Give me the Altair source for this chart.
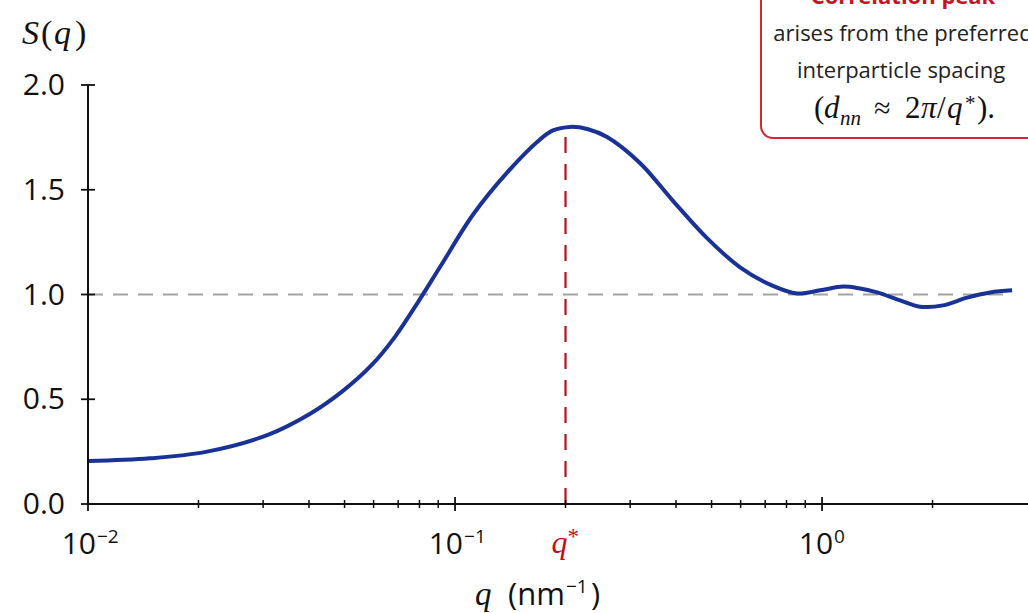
import altair as alt
import pandas as pd

# ---- data ----
q_vals = [0.01, 0.01475, 0.0211, 0.0309, 0.0403, 0.0495, 0.0594, 0.0686, 0.0793, 0.091,
          0.112, 0.1386, 0.1704, 0.1849, 0.2058, 0.2304, 0.2596, 0.319, 0.393, 0.486,
          0.598, 0.735, 0.855, 0.988, 1.141, 1.26, 1.412, 1.632, 1.849, 2.137, 2.483,
          2.87, 3.294]
s_vals = [0.205, 0.218, 0.25, 0.33, 0.431, 0.54, 0.665, 0.798, 0.964, 1.131,
          1.382, 1.582, 1.74, 1.783, 1.80, 1.789, 1.752, 1.628, 1.446, 1.269,
          1.13, 1.041, 1.005, 1.02, 1.038, 1.03, 1.01, 0.972, 0.942, 0.948, 0.985,
          1.01, 1.02]
y_tick_vals = [0.0, 0.5, 1.0, 1.5, 2.0]
x_major = [0.01, 0.1, 1.0]
x_exponents = ["\u22122", "\u22121", "0"]
x_minor = [0.02, 0.03, 0.04, 0.05, 0.06, 0.07, 0.08, 0.09,
           0.2, 0.3, 0.4, 0.5, 0.6, 0.7, 0.8, 0.9, 2.0]
q_star = 0.2
s_peak = 1.80
ref_level = 1.0
ref_end = 3.3

W, H = 940, 419
PL, PT = 88, 85

SANS = "Open Sans"
SERIF = "Liberation Serif"
INK = "#111111"
RED = "#c0101c"

xs = alt.Scale(type="log", domain=[0.01, 3.64], nice=False)
ys = alt.Scale(domain=[0, 2], nice=False)

curve_df = pd.DataFrame({"q": q_vals, "S": s_vals})
major_df = pd.DataFrame({"q": x_major, "exp": x_exponents})
minor_df = pd.DataFrame({"q": x_minor})
yt_df = pd.DataFrame({"S": y_tick_vals})
ref_df = pd.DataFrame({"q": [0.01], "q2": [ref_end], "S": [ref_level]})
star_df = pd.DataFrame({"q": [q_star], "S0": [0.0], "S1": [s_peak]})
one = pd.DataFrame({"a": [0]})


def X():
    return alt.X("q:Q", scale=xs, axis=None)


def Y(f="S"):
    return alt.Y(f + ":Q", scale=ys, axis=None)


grey = alt.Chart(ref_df).mark_rule(color="#a3a3a3", strokeWidth=2, strokeDash=[15, 10]).encode(
    x=X(), x2="q2:Q", y=Y())

reddash = alt.Chart(star_df).mark_rule(color="#b3121d", strokeWidth=2.2, strokeDash=[16, 11]).encode(
    x=X(), y=Y("S0"), y2="S1:Q")

curve = alt.Chart(curve_df).mark_line(color="#1a3296", strokeWidth=4, interpolate="catmull-rom").encode(
    x=X(), y=Y())

x_axis_line = alt.Chart(one).mark_rule(color=INK, strokeWidth=2).encode(
    x=alt.value(0), x2=alt.value(W), y=alt.value(H))
y_axis_line = alt.Chart(one).mark_rule(color=INK, strokeWidth=2).encode(
    x=alt.value(0), y=alt.value(0), y2=alt.value(H))

major_ticks = alt.Chart(major_df).mark_rule(color=INK, strokeWidth=1.8).encode(
    x=X(), y=alt.value(H - 7), y2=alt.value(H + 7))
minor_ticks = alt.Chart(minor_df).mark_rule(color=INK, strokeWidth=1.5).encode(
    x=X(), y=alt.value(H - 4), y2=alt.value(H + 4))
y_ticks = alt.Chart(yt_df).mark_rule(color=INK, strokeWidth=1.8).encode(
    y=Y(), x=alt.value(-7), x2=alt.value(7))
y_labels = alt.Chart(yt_df).mark_text(align="right", baseline="middle", font=SANS, fontSize=30,
                                      color=INK, dy=1).encode(
    y=Y(), x=alt.value(-23), text=alt.Text("S:Q", format=".1f"))

base_neg = alt.Chart(major_df).transform_filter(alt.datum.exp != "0").mark_text(
    text="10", align="right", dx=8, baseline="alphabetic", font=SANS, fontSize=30, color=INK
).encode(x=X(), y=alt.value(554 - PT))
exp_neg = alt.Chart(major_df).transform_filter(alt.datum.exp != "0").mark_text(
    align="left", dx=9, baseline="alphabetic", font=SANS, fontSize=19, color=INK
).encode(x=X(), y=alt.value(543 - PT), text="exp:N")
base_zero = alt.Chart(major_df).transform_filter(alt.datum.exp == "0").mark_text(
    text="10", align="right", dx=11, baseline="alphabetic", font=SANS, fontSize=30, color=INK
).encode(x=X(), y=alt.value(554 - PT))
exp_zero = alt.Chart(major_df).transform_filter(alt.datum.exp == "0").mark_text(
    align="left", dx=12, baseline="alphabetic", font=SANS, fontSize=19, color=INK
).encode(x=X(), y=alt.value(543 - PT), text="exp:N")

qstar_q = alt.Chart(star_df).mark_text(text="q", align="right", dx=2, baseline="alphabetic",
                                       font=SERIF, fontStyle="italic", fontSize=32, color=RED
                                       ).encode(x=X(), y=alt.value(553 - PT))
qstar_s = alt.Chart(star_df).mark_text(text="*", align="left", dx=2, baseline="alphabetic",
                                       font=SERIF, fontSize=23, color=RED
                                       ).encode(x=X(), y=alt.value(544 - PT))


def txt(s, x, y, size, font=SERIF, style="normal", weight="normal", color=INK, align="left"):
    return alt.Chart(one).mark_text(text=s, align=align, baseline="alphabetic", font=font,
                                    fontStyle=style, fontWeight=weight, fontSize=size, color=color
                                    ).encode(x=alt.value(x - PL), y=alt.value(y - PT))


box = alt.Chart(one).mark_rect(cornerRadius=12, fill="white", stroke="#cf2a36", strokeWidth=2).encode(
    x=alt.value(761 - PL), x2=alt.value(1080 - PL), y=alt.value(-120), y2=alt.value(138 - PT))

texts = [
    # y title S(q)
    txt("S", 22, 44, 34, style="italic"),
    txt("(", 41, 44, 34),
    txt("q", 54, 44, 34, style="italic"),
    txt(")", 75, 44, 34),
    # x title q (nm^-1)
    txt("q", 475, 605, 33, style="italic"),
    txt("(nm", 508, 605, 31, font=SANS),
    txt("\u22121", 566, 593, 19, font=SANS),
    txt(")", 591, 605, 31, font=SANS),
    # annotation box
    txt("Correlation peak", 903, 4, 22, font=SANS, weight="bold", color="#cc1122", align="center"),
    txt("arises from the preferred", 903, 41, 22, font=SANS, color="#222222", align="center"),
    txt("interparticle spacing", 901, 78, 22, font=SANS, color="#222222", align="center"),
    txt("(", 814, 118, 31),
    txt("d", 824, 118, 31, style="italic"),
    txt("nn", 840, 125, 21, style="italic"),
    txt("\u2248", 874, 118, 30),
    txt("2", 905, 118, 31),
    txt("\u03c0", 921, 118, 31, style="italic"),
    txt("/", 937, 118, 31),
    txt("q", 947, 118, 31, style="italic"),
    txt("*", 965, 110, 21),
    txt(").", 977, 118, 31),
]

chart = alt.layer(
    grey, reddash, curve, x_axis_line, y_axis_line, major_ticks, minor_ticks, y_ticks, y_labels,
    base_neg, exp_neg, base_zero, exp_zero, qstar_q, qstar_s, box, *texts
).properties(
    width=W, height=H,
    autosize=alt.AutoSizeParams(type="none"),
    padding={"left": PL, "top": PT, "right": 0, "bottom": 613 - PT - H},
    background="white",
).configure_view(stroke=None)

chart.save("out.html", embed_options={"renderer": "svg", "actions": False})
